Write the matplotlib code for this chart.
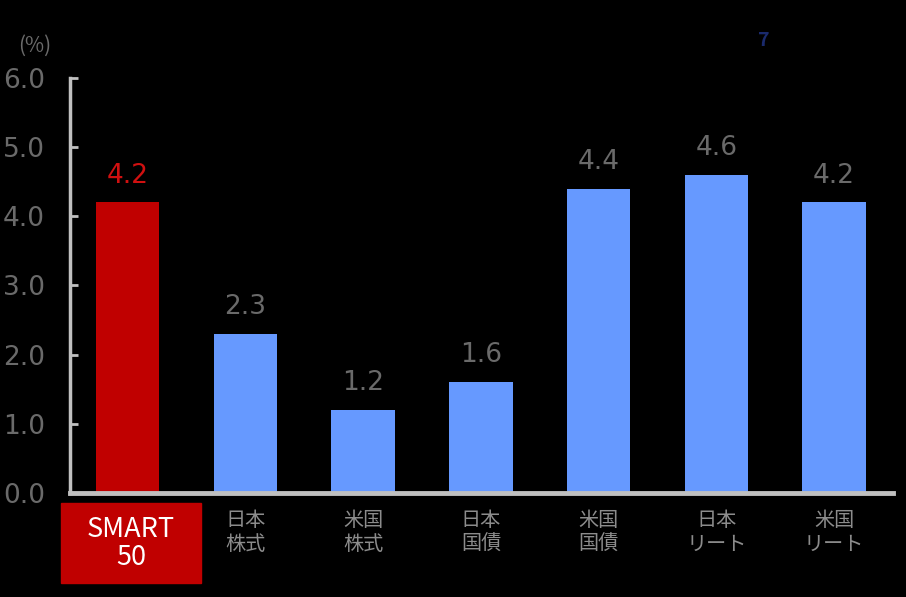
import matplotlib.pyplot as plt
from matplotlib.patches import Rectangle

plt.rcParams['font.family'] = ['Noto Sans CJK JP', 'DejaVu Sans']

# data
categories = ['SMART\n50', '日本\n株式', '米国\n株式', '日本\n国債', '米国\n国債', '日本\nリート', '米国\nリート']
values = [4.2, 2.3, 1.2, 1.6, 4.4, 4.6, 4.2]
bar_colors = ['#c00000', '#6699ff', '#6699ff', '#6699ff', '#6699ff', '#6699ff', '#6699ff']
label_colors = ['#d01010', '#6a6a6a', '#6a6a6a', '#6a6a6a', '#6a6a6a', '#6a6a6a', '#6a6a6a']
yticks = [0, 1, 2, 3, 4, 5, 6]

fig = plt.figure(figsize=(9.06, 5.97), dpi=100, facecolor='black')
ax = fig.add_axes([70 / 906, 104 / 597, 823 / 906, 415 / 597])
ax.set_facecolor('black')
ax.set_zorder(2)

x = list(range(len(values)))
ax.bar(x, values, width=0.54, color=bar_colors, zorder=2)

# value labels
for xi, v, c in zip(x, values, label_colors):
    ax.text(xi, v + 0.2, f'{v:.1f}', ha='center', va='bottom',
            fontsize=19, color=c, family='DejaVu Sans')

ax.set_xlim(-0.49, 6.5)
ax.set_ylim(0, 6)

# axes styling
for side in ['top', 'right']:
    ax.spines[side].set_visible(False)
ax.spines['left'].set_color('#c0c0c0')
ax.spines['left'].set_linewidth(2.5)
ax.spines['bottom'].set_color('#c0c0c0')
ax.spines['bottom'].set_linewidth(3.5)

ax.set_yticks(yticks)
ax.set_yticklabels([f'{t:.1f}' for t in yticks], family='DejaVu Sans')
ax.tick_params(axis='y', direction='in', length=6, width=2, color='#c0c0c0',
               labelsize=19, labelcolor='#6a6a6a', pad=18)

ax.set_xticks(x)
ax.set_xticklabels([''] + categories[1:])
ax.tick_params(axis='x', length=0, labelsize=14.5, labelcolor='#8c8c8c', pad=12)
for lbl in ax.get_xticklabels():
    lbl.set_linespacing(1.2)

# SMART 50 label box
fig.patches.append(Rectangle((61 / 906, 14 / 597), 140 / 906, 80 / 597,
                             transform=fig.transFigure, color='#c00000', zorder=1))
ax.text(0.03, -0.121, categories[0], transform=ax.get_xaxis_transform(),
        ha='center', va='center', fontsize=19.5, color='white',
        linespacing=1.05, clip_on=False)

# unit label and page number
fig.text(35 / 906, 1 - 46 / 597, '(%)', ha='center', va='center',
         fontsize=15, color='#6a6a6a')
fig.text(764 / 906, 1 - 40 / 597, '7', ha='center', va='center',
         fontsize=14, color='#1a2a6c', fontweight='bold')

fig.savefig('out.png', dpi=100, facecolor='black')
